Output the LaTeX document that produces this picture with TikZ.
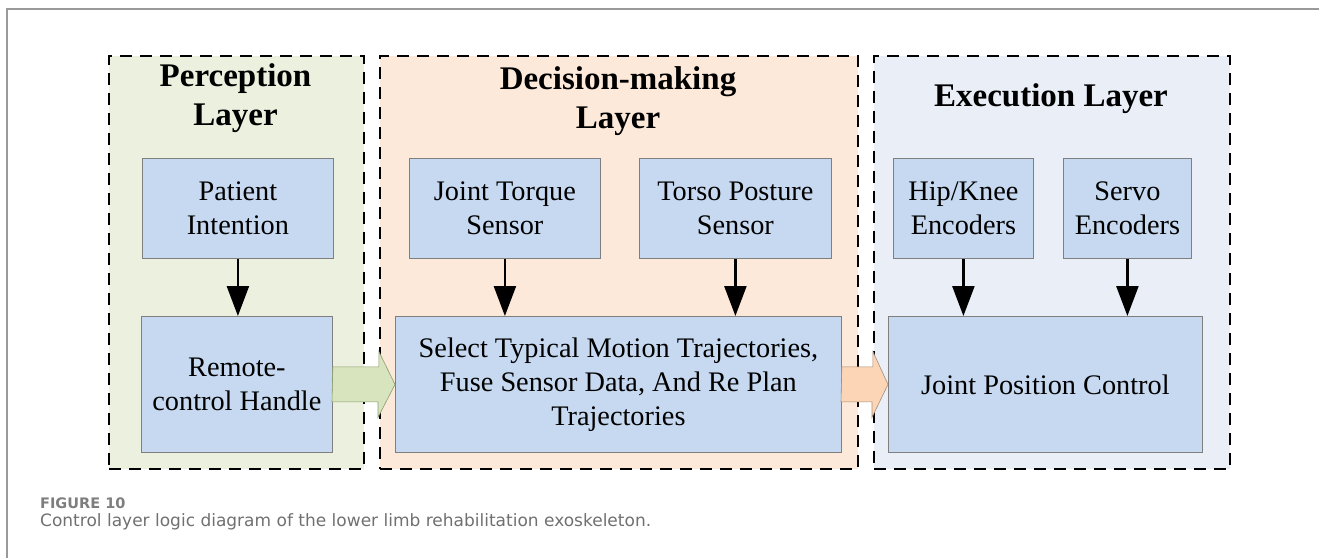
\documentclass[tikz,border=0pt]{standalone}
\usepackage{fontspec}
\setmainfont{Liberation Serif}
\newfontfamily\capfont{DejaVu Sans}
\usetikzlibrary{arrows.meta,positioning,calc}
\definecolor{percbg}{HTML}{EBF1DE}
\definecolor{decibg}{HTML}{FDE9D9}
\definecolor{execbg}{HTML}{E9EEF7}
\definecolor{boxfill}{HTML}{C6D9F0}
\definecolor{boxline}{HTML}{7F7F7F}
\definecolor{garrow}{HTML}{D7E4BD}
\definecolor{garrowline}{HTML}{8C9C70}
\definecolor{oarrow}{HTML}{FBD5B5}
\definecolor{oarrowline}{HTML}{A88E78}
\definecolor{frameline}{HTML}{9A9A9A}
\definecolor{captext}{HTML}{707070}

\begin{document}
\begin{tikzpicture}[x=1pt, y=-1pt,
    layer/.style={rectangle, draw=black, dash pattern=on 12pt off 8pt, line width=2.2pt,
      anchor=north west, inner sep=0pt},
    ttl/.style={anchor=north, align=center, inner sep=0pt, font=\fontsize{33}{39}\selectfont\bfseries},
    blk/.style={rectangle, draw=boxline, line width=0.8pt, fill=boxfill, anchor=north west,
      inner sep=0pt, align=center, font=\fontsize{28.3}{34}\selectfont},
    flow/.style={-{Triangle[length=30pt, width=22pt]}, line width=2.4pt},
    fat/.style={line width=0.6pt, line join=miter}]
  \useasboundingbox (0,0) rectangle (1319,558);
  \draw[frameline, line width=1.6pt] (7,558) -- (7,9) -- (1319,9);

  % layers
  \node[layer, fill=percbg, minimum width=255pt, minimum height=413pt] (percep) at (108,55) {};
  \node[layer, fill=decibg, minimum width=478pt, minimum height=413pt] (decis) at (379,55) {};
  \node[layer, fill=execbg, minimum width=356pt, minimum height=413pt] (exec) at (873,55) {};
  \node[ttl] (percttl) at (235.5,63) {Perception\\Layer};
  \node[ttl] (decittl) at (618,66) {Decision-making\\Layer};
  \node[ttl] (execttl) at (1051,83) {Execution Layer};

  % blocks
  \node[blk, minimum width=191pt, minimum height=100pt] (pat) at (142,158) {Patient\\Intention};
  \node[blk, minimum width=191pt, minimum height=136pt] (rem) at (141,316) {Remote-\\control Handle};
  \node[blk, minimum width=191pt, minimum height=100pt] (jts) at (409,158) {Joint Torque\\Sensor};
  \node[blk, minimum width=192pt, minimum height=100pt] (tps) at (639,158) {Torso Posture\\Sensor};
  \node[blk, minimum width=446pt, minimum height=136pt] (sel) at (395,316)
    {Select Typical Motion Trajectories,\\Fuse Sensor Data, And Re Plan\\Trajectories};
  \node[blk, minimum width=140pt, minimum height=100pt] (hkn) at (893,158) {Hip/Knee\\Encoders};
  \node[blk, minimum width=128pt, minimum height=100pt] (svo) at (1063,158) {Servo\\Encoders};
  \node[blk, minimum width=314pt, minimum height=136pt] (jpc) at (888,316) {Joint Position Control};

  % arrows
  \draw[flow] (pat.south) -- (pat.south |- rem.north);
  \draw[flow] (jts.south) -- (jts.south |- sel.north);
  \draw[flow] (tps.south) -- (tps.south |- sel.north);
  \draw[flow] (hkn.south) -- (hkn.south |- jpc.north);
  \draw[flow] (svo.south) -- (svo.south |- jpc.north);

  \draw[fat, draw=garrowline, fill=garrow] (rem.east) ++(0,-17.5) -- ++(46,0) -- ++(0,-15.5)
    -- (sel.west) -- ++(-17,33) -- ++(0,-15.5) -- ++(-46,0) -- cycle;
  \draw[fat, draw=oarrowline, fill=oarrow] (sel.east) ++(0,-17.5) -- ++(31,0) -- ++(0,-15.5)
    -- (jpc.west) -- ++(-16,33) -- ++(0,-15.5) -- ++(-31,0) -- cycle;

  % caption
  \node[anchor=base west, inner sep=0pt, text=captext!90,
    font=\capfont\bfseries\fontsize{14.5}{16}\selectfont] (fignum) at (40,508) {FIGURE 10};
  \node[anchor=base west, inner sep=0pt, text=captext, font=\capfont\fontsize{17}{20}\selectfont]
    (figcap) at (40,526) {Control layer logic diagram of the lower limb rehabilitation exoskeleton.};
\end{tikzpicture}
\end{document}
